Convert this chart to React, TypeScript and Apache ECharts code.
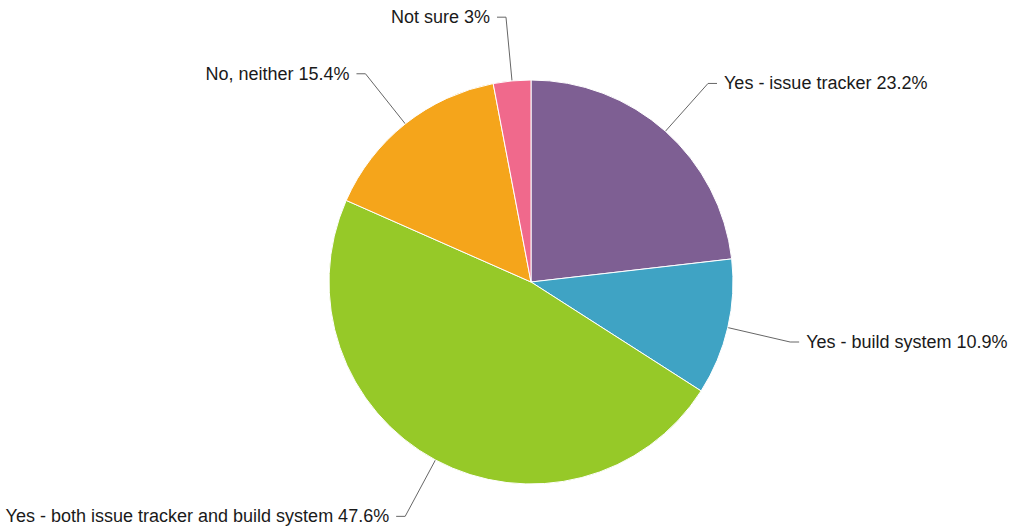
import React, { useEffect, useRef } from "react";
import * as echarts from "echarts";

const categories = [
  "Yes - issue tracker",
  "Yes - build system",
  "Yes - both issue tracker and build system",
  "No, neither",
  "Not sure",
];
const values = [23.2, 10.9, 47.6, 15.4, 3];
const colors = ["#7E5F93", "#3FA3C4", "#96C928", "#F5A51B", "#F0698C"];

export default function App() {
  const ref = useRef<HTMLDivElement>(null);
  useEffect(() => {
    if (!ref.current) return;
    const chart = echarts.init(ref.current, undefined, { renderer: "svg" });
    chart.setOption({
      animation: false,
      backgroundColor: "#ffffff",
      series: [
        {
          type: "pie",
          center: [531, 282],
          radius: [0, 202],
          startAngle: 90,
          clockwise: true,
          avoidLabelOverlap: false,
          data: categories.map((name, i) => ({
            name,
            value: values[i],
            itemStyle: { color: colors[i] },
          })),
          itemStyle: { borderColor: "#ffffff", borderWidth: 1 },
          label: {
            show: true,
            formatter: "{b} {c}%",
            fontFamily: "'Liberation Sans', Arial, sans-serif",
            fontSize: 18,
            color: "#1a1a1a",
            distanceToLabelLine: 7,
          },
          labelLine: {
            show: true,
            length: 64,
            length2: 9,
            smooth: false,
            lineStyle: { color: "#666666", width: 1 },
          },
          emphasis: { disabled: true },
        },
      ],
    });
    return () => chart.dispose();
  }, []);
  return (
    <div
      ref={ref}
      style={{ position: "fixed", left: 0, top: 0, width: 1011, height: 531 }}
    />
  );
}
